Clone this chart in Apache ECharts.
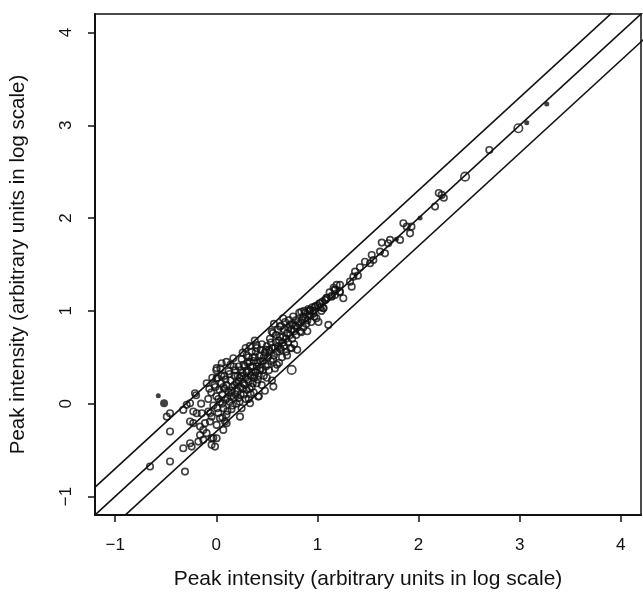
<!DOCTYPE html>
<html>
<head>
<meta charset="utf-8">
<script src="https://cdn.jsdelivr.net/npm/echarts@6/dist/echarts.min.js"></script>
<style>html,body{margin:0;background:#fff}#chart{width:643px;height:595px}</style>
</head>
<body>
<div id="chart"></div>
<script>
const axisTitle = "Peak intensity (arbitrary units in log scale)";
const axisRange = [-1.2, 4.2];
const tickValues = [-1, 0, 1, 2, 3, 4];
// y = x, y = x + 0.3, y = x - 0.3
const refOffsets = [0, 0.3, -0.3];
const refSpan = [-1.5, 4.5];

// sparse points on the low end
const tailPoints = [
  [-0.458, -0.103], [-0.49, -0.14], [-0.458, -0.30], [-0.656, -0.678], [-0.458, -0.624],
  [-0.31, -0.732], [-0.327, -0.48], [-0.26, -0.426], [-0.244, -0.463], [-0.178, -0.409],
  [-0.129, -0.39], [-0.161, -0.337], [-0.096, -0.318], [-0.047, -0.372], [0.003, -0.372],
  [-0.047, -0.444], [-0.26, -0.193], [-0.228, -0.21], [-0.161, -0.247], [-0.112, -0.21],
  [-0.063, -0.193], [-0.129, -0.283], [-0.327, -0.067], [-0.293, -0.013], [-0.26, 0.005],
  [-0.211, 0.113], [-0.228, -0.085], [-0.194, -0.103], [-0.145, -0.103], [-0.079, -0.085],
  [-0.047, -0.14], [0.036, -0.157], [0.003, -0.229], [0.086, -0.193], [-0.03, -0.37],
  [-0.013, -0.463], [-0.096, 0.22], [0.003, 0.274], [0.069, -0.283], [0.102, -0.21],
  [-0.2, 0.09], [-0.15, 0.0], [-0.04, 0.28], [-0.07, 0.16], [0.01, -0.05], [0.06, 0.0],
  [0.1, -0.12], [0.15, -0.06]
];

// dense cloud between 0 and 1.2
const clusterPoints = [
  [-0.08, 0.05], [-0.05, 0.12], [-0.03, -0.02], [-0.02, 0.2], [0.0, 0.08], [0.01, 0.28],
  [0.02, -0.1], [0.03, 0.15], [0.04, 0.02], [0.05, 0.22], [0.06, 0.1], [0.07, -0.05],
  [0.08, 0.3], [0.08, 0.16], [0.09, 0.04], [0.1, 0.2], [0.11, -0.08], [0.12, 0.12],
  [0.12, 0.35], [0.13, 0.02], [0.14, 0.25], [0.15, 0.08], [0.16, 0.18], [0.16, -0.02],
  [0.17, 0.4], [0.18, 0.3], [0.19, 0.1], [0.2, 0.22], [0.2, 0.0], [-0.06, -0.1],
  [0.0, 0.36], [0.04, 0.38], [-0.01, 0.18], [0.06, -0.15], [0.1, 0.45], [0.14, 0.42],
  [0.003, 0.383], [0.053, 0.436], [0.168, 0.49],
  [0.02, 0.05], [0.05, 0.3], [0.07, 0.18], [0.09, 0.26], [0.11, 0.06], [0.13, 0.32],
  [0.15, 0.14], [0.17, 0.06], [0.18, 0.2], [0.19, 0.36],
  [0.21, 0.14], [0.22, 0.4], [0.22, 0.06], [0.23, 0.28], [0.24, 0.18], [0.25, -0.05],
  [0.25, 0.48], [0.26, 0.33], [0.27, 0.22], [0.27, 0.1], [0.28, 0.4], [0.29, 0.28],
  [0.3, 0.15], [0.3, 0.52], [0.31, 0.36], [0.32, 0.05], [0.32, 0.24], [0.33, 0.45],
  [0.34, 0.3], [0.35, 0.18], [0.35, 0.56], [0.36, 0.4], [0.37, 0.12], [0.37, 0.28],
  [0.38, 0.5], [0.39, 0.34], [0.4, 0.22], [0.4, 0.6], [0.41, 0.44], [0.42, 0.08],
  [0.42, 0.3], [0.43, 0.52], [0.44, 0.38], [0.45, 0.2], [0.45, 0.64], [0.46, 0.46],
  [0.47, 0.3], [0.48, 0.55], [0.48, 0.14], [0.49, 0.4], [0.5, 0.62], [0.5, 0.28],
  [0.26, 0.55], [0.29, 0.6], [0.33, 0.62], [0.38, 0.68], [0.24, 0.36], [0.31, 0.44],
  [0.36, 0.5], [0.44, 0.46], [0.23, 0.02], [0.34, 0.1], [0.29, 0.05],
  [0.399, 0.633], [0.333, 0.005], [0.234, -0.14], [0.415, 0.076],
  [0.21, 0.3], [0.22, 0.24], [0.24, 0.1], [0.25, 0.3], [0.26, 0.16], [0.27, 0.42],
  [0.28, 0.2], [0.3, 0.34], [0.31, 0.26], [0.32, 0.5], [0.33, 0.16], [0.34, 0.4],
  [0.35, 0.34], [0.36, 0.22], [0.37, 0.46], [0.38, 0.3], [0.39, 0.56], [0.4, 0.4],
  [0.41, 0.26], [0.43, 0.36], [0.44, 0.58], [0.46, 0.36], [0.47, 0.5], [0.49, 0.58],
  [0.51, 0.5], [0.52, 0.36], [0.53, 0.7], [0.54, 0.46], [0.55, 0.25], [0.55, 0.6],
  [0.56, 0.76], [0.57, 0.52], [0.58, 0.38], [0.59, 0.66], [0.6, 0.56], [0.61, 0.8],
  [0.62, 0.44], [0.62, 0.68], [0.63, 0.6], [0.64, 0.84], [0.65, 0.5], [0.66, 0.72],
  [0.67, 0.62], [0.68, 0.88], [0.69, 0.56], [0.7, 0.76], [0.71, 0.66], [0.72, 0.9],
  [0.73, 0.6], [0.74, 0.8], [0.75, 0.7], [0.76, 0.94], [0.77, 0.64], [0.78, 0.84],
  [0.79, 0.74], [0.8, 0.58], [0.57, 0.86], [0.66, 0.92], [0.52, 0.58], [0.6, 0.42],
  [0.7, 0.52], [0.564, 0.184], [0.548, 0.777], [0.63, 0.83], [0.729, 0.849], [0.745, 0.598],
  [0.51, 0.42], [0.53, 0.56], [0.54, 0.66], [0.56, 0.48], [0.58, 0.6], [0.59, 0.74],
  [0.61, 0.62], [0.63, 0.72], [0.64, 0.58], [0.66, 0.66], [0.67, 0.8], [0.69, 0.7],
  [0.71, 0.82], [0.73, 0.74], [0.75, 0.86], [0.77, 0.78], [0.79, 0.9], [0.8, 0.82],
  [0.81, 0.88], [0.82, 0.98], [0.83, 0.78], [0.84, 0.99], [0.85, 0.9], [0.86, 0.82],
  [0.87, 1.0], [0.88, 0.92], [0.89, 0.86], [0.9, 0.78], [0.91, 1.02], [0.92, 0.95],
  [0.93, 1.01], [0.94, 0.88], [0.95, 1.04], [0.96, 0.97], [0.98, 1.05], [0.99, 0.92],
  [1.0, 1.06], [1.01, 0.88], [1.02, 1.08], [1.04, 1.0], [1.05, 1.1], [1.06, 1.03],
  [1.08, 1.12], [1.09, 1.14], [1.108, 0.849], [1.12, 1.2], [1.14, 1.16], [1.16, 1.25],
  [1.17, 1.23], [1.19, 1.28], [1.22, 1.2], [0.84, 0.77],
  [0.82, 0.86], [0.86, 0.94], [0.88, 0.98], [0.9, 0.9], [0.92, 1.0], [0.96, 1.0],
  [0.97, 0.94], [1.03, 1.04]
];

// points hugging y = x above 1
const upperPoints = [
  [1.223, 1.28], [1.174, 1.172], [1.075, 1.118], [1.025, 1.083], [1.256, 1.136],
  [1.141, 1.153], [1.092, 1.136], [1.058, 1.028], [0.976, 1.046], [0.927, 1.01],
  [1.223, 1.208], [1.174, 1.226], [1.339, 1.261], [1.322, 1.315], [1.355, 1.369],
  [1.372, 1.423], [1.4, 1.38], [1.42, 1.47], [1.47, 1.53], [1.52, 1.513], [1.553, 1.549],
  [1.537, 1.603], [1.619, 1.639], [1.668, 1.62], [1.636, 1.736], [1.70, 1.729],
  [1.718, 1.765], [1.817, 1.765], [1.916, 1.836], [1.883, 1.908], [1.85, 1.945],
  [1.93, 1.908], [2.163, 2.124], [2.229, 2.25], [2.2, 2.27], [2.25, 2.22], [2.70, 2.734]
];

const largePoints = [[0.745, 0.364], [2.46, 2.447], [2.987, 2.968]];
const filledPoints = [[-0.574, 0.084], [2.015, 2.0], [3.07, 3.029], [3.268, 3.23], [1.78, 1.772]];
const bigFilledPoints = [[-0.517, 0.005]];

const ink = "#111";
const font = "Liberation Sans, Arial, Helvetica, sans-serif";

function openSeries(data, size) {
  return {
    type: "scatter",
    data,
    symbol: "circle",
    symbolSize: size,
    silent: true,
    itemStyle: {color: "rgba(0,0,0,0)", borderColor: ink, borderWidth: 1.6},
  };
}

function filledSeries(data, size) {
  return {
    type: "scatter",
    data,
    symbol: "circle",
    symbolSize: size,
    silent: true,
    itemStyle: {color: ink},
  };
}

const refSeries = refOffsets.map(off => ({
  type: "line",
  data: refSpan.map(x => [x, x + off]),
  showSymbol: false,
  clip: true,
  silent: true,
  lineStyle: {color: ink, width: 1.6},
}));

const tickLabel = {
  customValues: tickValues,
  color: ink,
  fontFamily: font,
  fontSize: 17,
  formatter: v => String(v).replace("-", "\u2212"),
};

function axis(extra) {
  return Object.assign({
    type: "value",
    min: axisRange[0],
    max: axisRange[1],
    name: axisTitle,
    nameLocation: "middle",
    axisLine: {show: true, onZero: false, lineStyle: {color: ink, width: 2}},
    axisTick: {show: true, customValues: tickValues, length: 7, lineStyle: {color: ink, width: 1.5}},
    splitLine: {show: false},
  }, extra);
}

const chart = echarts.init(document.getElementById("chart"));
chart.setOption({
  animation: false,
  grid: {left: 95, right: 2, top: 14, bottom: 80, show: true, borderColor: ink, borderWidth: 1.5},
  xAxis: axis({
    nameGap: 54,
    nameTextStyle: {color: ink, fontFamily: font, fontSize: 21},
    axisLabel: Object.assign({}, tickLabel, {margin: 22}),
  }),
  yAxis: axis({
    nameGap: 66,
    nameTextStyle: {color: ink, fontFamily: font, fontSize: 20.5},
    axisLabel: Object.assign({}, tickLabel, {margin: 20, rotate: 90}),
  }),
  series: [
    ...refSeries,
    openSeries(tailPoints, 6.5),
    openSeries(clusterPoints, 6.5),
    openSeries(upperPoints, 6.5),
    openSeries(largePoints, 8.5),
    filledSeries(filledPoints, 5),
    filledSeries(bigFilledPoints, 8),
  ],
});
</script>
</body>
</html>
